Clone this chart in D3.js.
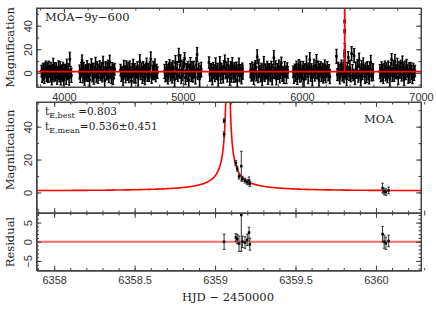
<!DOCTYPE html>
<html lang="en">
<head>
<meta charset="utf-8">
<title>MOA light curve</title>
<script src="https://d3js.org/d3.v7.min.js"></script>
<style>
  body { margin: 0; background: #fff; }
  svg { display: block; }
  .tick text { font-family: "Liberation Sans", Arial, sans-serif; font-size: 11px; fill: #333; }
  .tick line, .domain { stroke: #444; }
  .label { font-family: "DejaVu Serif", serif; fill: #222; }
</style>
</head>
<body>
<script>
// MOA-9y-600 seasons: [HJD-2450000, magnification, error]
var season1 = [[3812,1.5,5],[3818,-2.1,6],[3825,3.2,5],[3831,0.4,7],[3836,-4.0,5],[3843,2.6,6],[3849,5.1,5],[3855,-1.3,6],[3861,0.9,8],[3867,-3.2,5],[3874,4.0,6],[3880,1.1,5],[3886,-0.7,7],[3892,2.9,6],[3899,-5.3,5],[3905,0.2,6],[3911,6.4,6],[3917,-2.6,5],[3924,1.8,7],[3930,-0.9,6],[3936,3.5,5],[3943,-3.8,6],[3949,0.6,5],[3955,2.2,8],[3962,-1.7,6],[3968,4.6,5],[3974,-4.4,6],[3980,1.3,5],[3987,-0.2,7],[3993,3.0,6],[3999,-6.1,5],[4006,0.8,6],[4012,2.4,5],[4019,-2.9,7],[4025,5.6,6],[4031,-1.0,5],[4038,1.9,6],[4044,-3.5,7],[4050,11.5,6],[4057,0.3,5],[4063,-2.2,6]];
var season2 = [[4132,0.7,6],[4139,-3.1,5],[4146,2.8,6],[4153,10.2,5],[4160,-1.5,7],[4167,3.9,5],[4174,-4.6,6],[4181,1.2,5],[4188,0.0,7],[4195,4.4,6],[4202,-2.4,5],[4209,1.7,6],[4216,-5.8,6],[4223,2.1,5],[4231,6.0,6],[4238,-0.6,7],[4245,3.3,5],[4252,-3.6,6],[4259,0.9,5],[4266,7.2,6],[4273,-1.9,6],[4280,2.5,7],[4287,-4.1,5],[4294,1.4,6],[4301,5.3,5],[4308,-0.3,6],[4315,2.0,7],[4322,-2.7,5],[4329,8.1,6],[4336,0.5,5],[4343,-6.4,6],[4350,3.6,6],[4357,-1.1,5],[4364,1.6,7],[4371,4.8,6],[4378,-3.3,5],[4385,9.0,6],[4392,0.1,5],[4399,-2.0,7],[4406,2.7,6],[4413,-4.8,5],[4420,1.0,6],[4426,3.1,5]];
var season3 = [[4476,2.3,5],[4483,-1.4,6],[4490,0.6,5],[4497,-4.9,6],[4504,3.7,7],[4511,1.0,5],[4518,-2.5,6],[4525,5.2,5],[4532,-0.4,6],[4539,2.0,7],[4547,-3.4,5],[4554,4.1,6],[4561,0.3,5],[4568,-6.8,6],[4575,1.8,6],[4582,6.6,5],[4589,-1.6,7],[4596,2.9,5],[4603,-2.8,6],[4610,0.8,5],[4617,3.4,6],[4624,-4.3,7],[4631,1.5,5],[4638,9.4,6],[4645,-0.8,5],[4652,2.6,6],[4660,-3.0,6],[4667,4.7,5],[4674,0.0,7],[4681,-5.1,5],[4688,2.2,6],[4695,7.5,5],[4702,-1.2,6],[4709,1.1,7],[4716,-2.3,5],[4723,3.8,6],[4730,11.8,6],[4737,-3.9,5],[4744,0.4,6],[4751,2.8,7],[4758,-0.9,5],[4765,5.8,6],[4772,-2.6,5],[4779,1.3,6],[4786,0.2,5]];
var season4 = [[4846,1.2,6],[4853,-2.7,5],[4860,3.6,6],[4867,0.1,7],[4874,-4.5,5],[4881,2.4,6],[4888,6.1,5],[4895,-1.0,6],[4902,1.9,7],[4909,-3.7,5],[4916,4.3,6],[4923,0.7,5],[4930,-5.6,6],[4937,8.8,6],[4944,-0.5,5],[4951,2.7,7],[4958,-2.2,5],[4965,14.8,6],[4972,1.4,6],[4979,10.3,5],[4986,-3.2,6],[4993,3.1,7],[5000,-1.8,5],[5007,5.5,6],[5014,12.2,5],[5021,-4.0,6],[5028,2.0,6],[5035,-0.2,7],[5042,4.9,5],[5049,-6.2,6],[5056,1.6,5],[5063,7.0,6],[5070,-1.4,6],[5077,2.5,7],[5084,-2.9,5],[5091,3.9,6],[5098,0.6,5],[5105,-3.5,6],[5112,6.8,6],[5119,15.6,6],[5126,-0.7,5],[5133,2.3,6],[5140,-4.7,7],[5147,1.0,5],[5154,3.0,6]];
var season5 = [[5219,8.6,5],[5226,-1.3,6],[5233,2.9,5],[5240,0.2,7],[5247,-4.2,6],[5254,3.8,5],[5261,1.0,6],[5268,-2.5,5],[5275,5.7,7],[5282,-0.6,5],[5289,2.1,6],[5296,-5.5,6],[5303,1.5,5],[5310,7.8,6],[5317,-1.9,7],[5324,3.2,5],[5331,0.4,6],[5338,-3.6,5],[5345,4.5,6],[5352,9.2,6],[5359,-0.1,5],[5366,2.4,7],[5373,-2.8,5],[5380,6.3,6],[5387,1.2,5],[5394,-4.6,6],[5401,3.5,6],[5408,-1.0,7],[5415,8.0,5],[5422,0.8,6],[5429,-3.1,5],[5436,2.6,6],[5443,-0.7,7],[5450,4.2,5],[5457,-5.9,6],[5464,1.7,5],[5471,6.5,6],[5478,-1.6,6],[5485,2.0,5],[5492,-2.4,7],[5499,3.4,5],[5503,0.5,6]];
var season6 = [[5567,1.8,6],[5574,-2.0,5],[5581,3.3,6],[5588,0.3,7],[5595,-4.8,5],[5602,2.6,6],[5609,5.4,5],[5616,-0.9,6],[5624,13.6,6],[5631,-3.4,5],[5638,4.6,7],[5645,1.1,5],[5652,-1.7,6],[5659,2.2,6],[5666,-6.0,5],[5673,0.7,6],[5680,6.9,7],[5687,-2.3,5],[5694,1.6,6],[5701,-0.3,5],[5708,3.9,6],[5715,-3.9,6],[5722,0.9,7],[5729,2.8,5],[5736,-1.5,6],[5743,4.9,5],[5750,-4.3,6],[5757,1.4,6],[5764,12.8,6],[5771,0.0,5],[5778,3.2,7],[5785,-5.2,5],[5792,1.9,6],[5799,-0.6,5],[5806,5.0,6],[5813,-2.6,6],[5820,2.3,7],[5827,8.4,5],[5834,-1.2,6],[5841,0.6,5],[5848,-3.0,6],[5855,3.7,6],[5862,1.0,5],[5869,-2.1,7],[5876,2.5,6],[5881,0.4,5]];
var season7 = [[5926,0.9,5],[5933,-3.0,6],[5940,2.5,5],[5947,-0.4,7],[5954,4.0,6],[5961,-4.9,5],[5968,1.7,6],[5975,6.2,5],[5982,-1.8,6],[5989,2.9,7],[5996,-2.6,5],[6003,0.5,6],[6010,4.7,5],[6017,-5.7,6],[6024,2.0,6],[6031,-0.8,5],[6038,7.3,7],[6045,1.2,5],[6052,-3.3,6],[6059,3.5,5],[6066,11.2,6],[6073,-1.1,6],[6080,2.7,5],[6087,-4.1,7],[6094,0.8,5],[6101,5.6,6],[6108,-2.0,5],[6115,1.5,6],[6122,9.6,6],[6129,-0.2,5],[6136,3.0,7],[6143,-6.3,5],[6150,1.9,6],[6157,4.4,5],[6164,-1.4,6],[6171,2.3,6],[6178,-3.7,5],[6185,0.6,7],[6192,6.0,5],[6199,-2.4,6],[6206,1.3,5],[6213,3.6,6],[6220,-0.9,6],[6227,2.1,5],[6234,-3.2,6]];
var season8 = [[6290,14.0,6],[6297,-1.5,5],[6304,3.1,6],[6311,0.0,7],[6318,-4.4,5],[6325,2.4,6],[6332,5.9,5],[6339,-1.0,6],[6346,1.8,7],[6353,-3.5,5],[6361,4.2,6],[6368,0.9,5],[6375,-5.0,6],[6382,2.7,6],[6389,13.0,5],[6396,-0.5,6],[6403,3.8,7],[6410,-2.7,5],[6417,16.2,6],[6424,1.0,6],[6431,-1.8,5],[6438,14.6,6],[6445,-4.0,6],[6452,2.2,7],[6459,0.3,5],[6466,5.2,6],[6473,-2.9,5],[6480,10.8,6],[6487,1.4,6],[6494,-6.1,5],[6501,3.3,7],[6508,-0.8,5],[6515,6.7,6],[6522,1.6,5],[6529,-3.1,6],[6536,2.5,6],[6543,-1.3,7],[6550,4.6,5],[6557,0.1,6],[6564,-4.5,5],[6571,3.0,6],[6578,8.9,6],[6585,-1.9,5],[6592,2.0,6],[6598,0.4,7]];
var season9 = [[6655,1.1,6],[6662,-2.6,5],[6669,3.4,6],[6676,0.2,7],[6683,-4.1,5],[6690,2.1,6],[6697,5.0,5],[6704,-0.8,6],[6711,1.6,7],[6718,-3.4,5],[6725,4.1,6],[6732,0.7,5],[6739,-5.4,6],[6746,2.8,6],[6753,11.3,5],[6760,-1.4,6],[6767,3.6,7],[6774,-2.3,5],[6781,9.7,6],[6788,1.3,6],[6795,-0.2,5],[6802,6.4,6],[6809,-3.8,6],[6816,2.4,7],[6823,0.5,5],[6830,4.8,6],[6837,-2.0,5],[6844,8.3,6],[6851,1.0,6],[6858,-5.8,5],[6865,3.0,7],[6872,-0.6,5],[6879,5.5,6],[6886,1.8,5],[6893,-2.9,6],[6900,2.6,6],[6907,-1.1,7],[6914,3.9,5],[6921,0.3,6],[6928,-4.2,5],[6935,2.2,6],[6942,-0.4,6],[6949,1.5,5]];

// points during the event
var eventPoints = [[6359.056,43.6,1.2],[6359.056,35.3,1.5],[6359.129,17.9,1.5],[6359.138,14.4,1.5],[6359.149,9.7,1.5],[6359.163,16.0,9.0],[6359.170,8.3,1.5],[6359.186,7.2,1.5],[6359.200,6.2,1.5],[6359.211,7.2,2.2],[6359.216,5.2,1.5],[6360.041,2.6,3.0],[6360.051,0.6,2.0],[6360.062,0.2,2.0],[6360.079,1.2,2.0]];
var residuals = [[6359.056,0.0,2.0],[6359.129,1.1,1.0],[6359.138,0.7,1.2],[6359.149,-0.5,2.0],[6359.163,7.0,9.5],[6359.170,0.0,1.5],[6359.186,-0.2,1.5],[6359.200,0.5,1.5],[6359.211,2.4,1.4],[6359.216,-0.7,1.5],[6360.041,2.0,2.0],[6360.051,0.0,1.7],[6360.062,-0.4,1.6],[6360.079,0.2,1.5]];

// best model
var t0 = 6359.08, u0 = 0.005, tE = 0.803;

var yearTicks = [4000, 5000, 6000, 7000];
var dayTicks = [6358, 6358.5, 6359, 6359.5, 6360];
var magTicks = [0, 20, 40];
var resTicks = [-5, 0, 5];

var width = 436, height = 315;
var left = 36.5, right = 421;

var svg = d3.select("body").append("svg")
    .attr("width", width)
    .attr("height", height);

var xAll = d3.scaleLinear().domain([3770, 7000]).range([left, right]);
var xDay = d3.scaleLinear().domain([6357.89, 6360.28]).range([left, right]);
var yTop = d3.scaleLinear().domain([-12, 55]).range([87, 8]);
var yMid = d3.scaleLinear().domain([-12.5, 55]).range([213, 102]);
var yRes = d3.scaleLinear().domain([-7.5, 7.5]).range([270.5, 213]);

function magnification(t) {
    var tau = (t - t0) / tE;
    var u = Math.sqrt(u0 * u0 + tau * tau);
    return (u * u + 2) / (u * Math.sqrt(u * u + 4));
}

function fmt(d) { return String(d).replace("-", "\u2212"); }

var clipId = 0;
function addClip(y0, y1) {
    clipId++;
    svg.append("clipPath").attr("id", "clip" + clipId)
        .append("rect").attr("x", left).attr("y", y0)
        .attr("width", right - left).attr("height", y1 - y0);
    return "url(#clip" + clipId + ")";
}

// ticks on all four sides, pointing inward
function drawAxes(x, y, xMajor, xMinor, yMajor, yMinor, opt) {
    var top = y.range()[1], bottom = y.range()[0];
    svg.append("g").attr("transform", "translate(0," + bottom + ")")
        .call(d3.axisBottom(x).tickValues(xMinor).tickSize(-2.5).tickSizeOuter(0).tickFormat(""));
    svg.append("g").attr("transform", "translate(0," + bottom + ")")
        .call(d3.axisBottom(x).tickValues(xMajor).tickSize(-5).tickSizeOuter(0).tickPadding(6)
            .tickFormat(opt.xLabels ? opt.xFormat : ""));
    svg.append("g").attr("transform", "translate(0," + top + ")")
        .call(d3.axisTop(x).tickValues(xMinor).tickSize(-2.5).tickSizeOuter(0).tickFormat(""));
    svg.append("g").attr("transform", "translate(0," + top + ")")
        .call(d3.axisTop(x).tickValues(xMajor).tickSize(-5).tickSizeOuter(0).tickFormat(""));
    if (opt.crossTop) {
        svg.append("g").attr("transform", "translate(0," + top + ")")
            .call(d3.axisTop(x).tickValues(xMajor).tickSize(4).tickSizeOuter(0).tickFormat(""));
        svg.append("g").attr("transform", "translate(0," + top + ")")
            .call(d3.axisTop(x).tickValues(xMinor).tickSize(2).tickSizeOuter(0).tickFormat(""));
    }
    svg.append("g").attr("transform", "translate(" + left + ",0)")
        .call(d3.axisLeft(y).tickValues(yMinor).tickSize(-2.5).tickSizeOuter(0).tickFormat(""));
    var ly = svg.append("g").attr("transform", "translate(" + left + ",0)")
        .call(d3.axisLeft(y).tickValues(yMajor).tickSize(-5).tickSizeOuter(0).tickFormat(fmt));
    ly.selectAll(".tick text")
        .attr("x", 0).attr("y", -5).attr("dy", 0)
        .attr("text-anchor", "middle")
        .attr("transform", "rotate(-90)");
    svg.append("g").attr("transform", "translate(" + right + ",0)")
        .call(d3.axisRight(y).tickValues(yMinor).tickSize(-2.5).tickSizeOuter(0).tickFormat(""));
    svg.append("g").attr("transform", "translate(" + right + ",0)")
        .call(d3.axisRight(y).tickValues(yMajor).tickSize(-5).tickSizeOuter(0).tickFormat(""));
}

function drawPoints(g, data, x, y, cap, size, color, lw) {
    var pts = g.selectAll("g.pt").data(data).enter().append("g").attr("class", "pt");
    pts.append("line")
        .attr("x1", function(d) { return x(d[0]); })
        .attr("x2", function(d) { return x(d[0]); })
        .attr("y1", function(d) { return y(d[1] - d[2]); })
        .attr("y2", function(d) { return y(d[1] + d[2]); })
        .attr("stroke", color).attr("stroke-width", lw);
    [-1, 1].forEach(function(s) {
        pts.append("line")
            .attr("x1", function(d) { return x(d[0]) - cap; })
            .attr("x2", function(d) { return x(d[0]) + cap; })
            .attr("y1", function(d) { return y(d[1] + s * d[2]); })
            .attr("y2", function(d) { return y(d[1] + s * d[2]); })
            .attr("stroke", color).attr("stroke-width", 1);
    });
    pts.append("rect")
        .attr("x", function(d) { return x(d[0]) - size / 2; })
        .attr("y", function(d) { return y(d[1]) - size / 2; })
        .attr("width", size).attr("height", size)
        .attr("fill", "#000");
}

// ---- top panel: all seasons ----
var allPoints = [].concat(season1, season2, season3, season4, season5,
    season6, season7, season8, season9, eventPoints);
var gTop = svg.append("g").attr("clip-path", addClip(8, 87));
drawPoints(gTop, allPoints, xAll, yTop, 1.3, 2.6, "#000", 1.6);

var topT = d3.range(3770, 7001, 5).concat(d3.range(t0 - 0.5, t0 + 0.5, 0.001)).sort(d3.ascending);
gTop.append("path")
    .datum(topT)
    .attr("fill", "none").attr("stroke", "#f00").attr("stroke-width", 1.8)
    .attr("d", d3.line().x(function(t) { return xAll(t); })
        .y(function(t) { return yTop(Math.min(magnification(t), 80)); }));

drawAxes(xAll, yTop, yearTicks, d3.range(3800, 7001, 200), magTicks, d3.range(-10, 55, 10),
    { xLabels: true, xFormat: d3.format("d") });

// ---- middle panel: zoom on the event ----
var gMid = svg.append("g").attr("clip-path", addClip(102, 213));
var midT = d3.range(6357.85, 6360.3, 0.0005);
gMid.append("path")
    .datum(midT)
    .attr("fill", "none").attr("stroke", "#f00").attr("stroke-width", 1.6)
    .attr("d", d3.line().x(function(t) { return xDay(t); })
        .y(function(t) { return yMid(Math.min(magnification(t), 80)); }));
drawPoints(gMid, eventPoints, xDay, yMid, 1.3, 2.5, "#333", 1);

var dayMinor = d3.range(0, 25).map(function(i) { return 6357.9 + i * 0.1; });
drawAxes(xDay, yMid, dayTicks, dayMinor, magTicks, d3.range(-10, 55, 10), { xLabels: false });

// ---- residual panel ----
var gRes = svg.append("g").attr("clip-path", addClip(213, 270.5));
gRes.append("line")
    .attr("x1", left).attr("x2", right)
    .attr("y1", yRes(0)).attr("y2", yRes(0))
    .attr("stroke", "#f46a6a").attr("stroke-width", 2.2);
drawPoints(gRes, residuals, xDay, yRes, 1.3, 2.5, "#333", 1);

drawAxes(xDay, yRes, dayTicks, dayMinor, resTicks, d3.range(-7, 8, 1),
    { xLabels: true, xFormat: function(d) { return String(d); } });

// frames
[[8, 87], [102, 213], [213, 270.5]].forEach(function(p) {
    svg.append("rect").attr("x", left).attr("y", p[0])
        .attr("width", right - left).attr("height", p[1] - p[0])
        .attr("fill", "none").attr("stroke", "#444").attr("stroke-width", 1);
});

// ---- labels ----
function yLabel(text, cy) {
    svg.append("text").attr("class", "label")
        .attr("transform", "translate(14," + cy + ") rotate(-90)")
        .attr("text-anchor", "middle")
        .attr("font-size", "11.5px")
        .text(text);
}
yLabel("Magnification", 47.5);
yLabel("Magnification", 150);
yLabel("Residual", 242);

svg.append("text").attr("class", "label")
    .attr("x", 228).attr("y", 301).attr("text-anchor", "middle")
    .attr("font-size", "11.5px")
    .text("HJD \u2212 2450000");

svg.append("text").attr("class", "label")
    .attr("x", 45).attr("y", 21).attr("font-size", "11.5px")
    .text("MOA\u22129y\u2212600");

svg.append("text").attr("class", "label")
    .attr("x", 364).attr("y", 123).attr("font-size", "11.5px")
    .text("MOA");

function tLabel(sub, value, yy) {
    var t = svg.append("text").attr("class", "label")
        .attr("x", 45).attr("y", yy).attr("font-size", "10.5px");
    t.append("tspan").text("t");
    t.append("tspan").attr("font-size", "8px").attr("dy", 3).text(sub);
    t.append("tspan").attr("dy", -3).text(value);
}
tLabel("E,best", " =0.803", 115);
tLabel("E,mean", "=0.536\u00b10.451", 130);
</script>
</body>
</html>
